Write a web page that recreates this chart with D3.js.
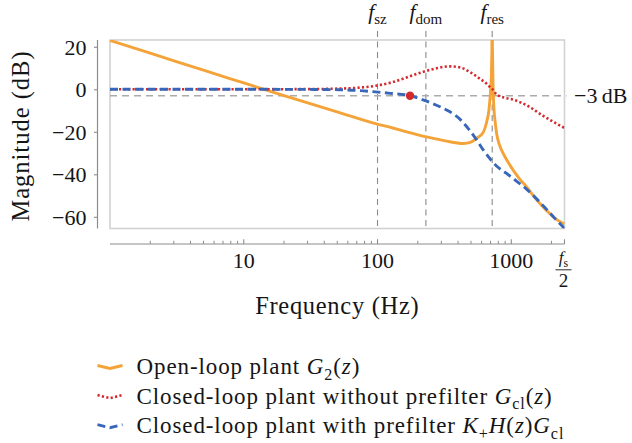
<!DOCTYPE html>
<html>
<head>
<meta charset="utf-8">
<script src="https://cdn.jsdelivr.net/npm/d3@7"></script>
<style>
  html, body { margin: 0; padding: 0; background: #fff; }
  svg { display: block; }
  svg text { font-family: "Liberation Serif", "DejaVu Serif", serif; }
</style>
</head>
<body>
<svg id="chart" width="632" height="443"></svg>
<script>
// ---- data -------------------------------------------------------------
// Open-loop plant G2(z): frequency (Hz) and magnitude (dB)
const openFreq = [1, 2, 5, 10, 20, 52, 92, 130, 165, 233, 290, 348, 437, 500, 550,
  620, 654, 680, 700, 710, 716, 720, 724, 730, 741, 760, 777, 820, 870, 950, 1033,
  1150, 1301, 1460, 1637, 1850, 2057, 2250, 2500];
const openDb = [23.0, 17.0, 9.0, 3.0, -3.0, -11.0, -15.8, -18.2, -20.0, -22.4, -23.7,
  -24.7, -25.5, -24.9, -23.1, -20.0, -15.5, -10.0, -1.0, 6.0, 18.0, 32.0, 18.0, 3.0,
  -8.3, -16.0, -20.8, -26.5, -30.2, -34.5, -38.0, -42.0, -45.9, -50.0, -53.7, -57.2,
  -60.0, -61.8, -63.3];

// Closed-loop plant without prefilter Gcl(z)
const clFreq = [1, 10, 30, 50, 70, 100, 130, 165, 200, 233, 280, 348, 420, 491, 582,
  650, 692, 720, 776, 900, 1028, 1300, 1722, 2100, 2500];
const clDb = [0, 0, 0.1, 0.3, 0.7, 1.8, 3.4, 5.6, 7.4, 8.7, 10.0, 10.8, 10.2, 8.1, 5.0,
  2.8, 1.1, 0.2, -2.4, -4.0, -4.8, -7.5, -12.4, -15.6, -18.2];

// Closed-loop plant with prefilter K+ H(z) Gcl
const pfFreq = [1, 10, 30, 52, 70, 92, 120, 175, 233, 300, 348, 420, 491, 560, 617,
  680, 733, 800, 922, 1100, 1300, 1600, 1836, 2100, 2500];
const pfDb = [0, 0, -0.05, -0.2, -0.5, -1.1, -1.8, -3.0, -5.6, -8.5, -10.6, -14.5,
  -19.5, -24.5, -28.5, -32.0, -34.5, -36.8, -39.6, -43.3, -47.0, -52.5, -56.5, -60.5,
  -65.4];

// Characteristic frequencies (Hz) marked by vertical guides
const guideSubs = ["sz", "dom", "res"];
const guideFreqs = [100, 230, 720];

// -3 dB bandwidth point of the prefiltered loop
const cutoffDb = -3;
const cutoffFreq = 175;

// Axes
const nyquistFreq = 2500;
const xMajorTicks = [10, 100, 1000];
const xMajorLabels = ["10", "100", "1000"];
const yTicks = [-60, -40, -20, 0, 20];
const yTickLabels = ["\u221260", "\u221240", "\u221220", "0", "20"];

// ---- layout -----------------------------------------------------------
const plot = { left: 110, right: 564.5, top: 40, bottom: 228.5 };
const colors = { open: "#F4A338", cl: "#D42A2E", pf: "#3867BA" };
const textColor = "#151515";
const serif = "'Liberation Serif', 'DejaVu Serif', serif";

const svg = d3.select("#chart");

const x = d3.scaleLog().domain([1, nyquistFreq]).range([plot.left, plot.right]);
const y = d3.scaleLinear().domain([-65.5, 23.2]).range([plot.bottom, plot.top]);

// rich text helper: italic and subscript runs inside one <text>
function rich(textSel, parts, fs) {
  let shift = 0;
  textSel.attr("font-family", serif);
  parts.forEach(p => {
    const ts = textSel.append("tspan").text(p.t);
    const target = p.sub ? fs * 0.24 : 0;
    if (target !== shift) ts.attr("dy", target - shift);
    shift = target;
    if (p.i) ts.attr("font-style", "italic");
    if (p.sub) ts.attr("font-size", fs * 0.7);
  });
  return textSel;
}

// clip for the curves
svg.append("defs").append("clipPath").attr("id", "plotClip")
  .append("rect")
  .attr("x", plot.left).attr("y", plot.top)
  .attr("width", plot.right - plot.left).attr("height", plot.bottom - plot.top);

// frame of the plotting area
svg.append("rect")
  .attr("x", plot.left).attr("y", plot.top)
  .attr("width", plot.right - plot.left).attr("height", plot.bottom - plot.top)
  .attr("fill", "none").attr("stroke", "#d2d2d2").attr("stroke-width", 1.6);

// vertical guides with labels above
const guides = svg.append("g");
guideFreqs.forEach((f, i) => {
  const gx = x(f);
  guides.append("line")
    .attr("x1", gx).attr("x2", gx).attr("y1", 31).attr("y2", plot.bottom + 2)
    .attr("stroke", "#8a8a8a").attr("stroke-width", 1.1)
    .attr("stroke-dasharray", "6,4.5");
  const t = guides.append("text")
    .attr("x", gx).attr("y", 19).attr("text-anchor", "middle")
    .attr("fill", textColor).attr("font-size", 21.5);
  rich(t, [{ t: "f", i: true }, { t: guideSubs[i], sub: true }], 21.5);
});

// -3 dB reference line and label
svg.append("line")
  .attr("x1", plot.left).attr("x2", plot.right + 2)
  .attr("y1", y(cutoffDb)).attr("y2", y(cutoffDb))
  .attr("stroke", "#ababab").attr("stroke-width", 1.4)
  .attr("stroke-dasharray", "7,5");
svg.append("text")
  .attr("x", 574).attr("y", y(cutoffDb) + 7)
  .attr("font-family", serif)
  .attr("fill", textColor).attr("font-size", 22)
  .text("\u22123\u2009dB");

// y axis (detached, left of the frame)
const yAxisX = 97.5;
const yAxis = svg.append("g").attr("transform", `translate(${yAxisX},0)`)
  .call(d3.axisLeft(y).tickValues(yTicks).tickSize(3.5).tickSizeOuter(0)
    .tickFormat((d, i) => yTickLabels[i]));
yAxis.attr("font-family", serif);
yAxis.select(".domain").attr("stroke", "#8c8c8c").attr("stroke-width", 1.2)
  .attr("d", `M0,${plot.top}V${plot.bottom}`);
yAxis.selectAll(".tick line").attr("stroke", "#8c8c8c").attr("stroke-width", 1.1);
yAxis.selectAll(".tick text")
  .attr("x", -11).attr("dy", "0.34em")
  .attr("font-family", serif).attr("font-size", 22)
  .attr("fill", textColor);

// x axis (detached, below the frame), ticks pointing up
const xAxisY = 244;
const minorTicks = [];
[1, 10, 100, 1000].forEach(dec => {
  for (let k = 2; k <= 9; k++) {
    const v = dec * k;
    if (v < nyquistFreq) minorTicks.push(v);
  }
});
const xAxisG = svg.append("g").attr("transform", `translate(0,${xAxisY})`);
xAxisG.append("line")
  .attr("x1", plot.left).attr("x2", plot.right)
  .attr("stroke", "#8c8c8c").attr("stroke-width", 1.2);
xAxisG.selectAll("line.minor").data(minorTicks).join("line")
  .attr("class", "minor")
  .attr("x1", d => x(d)).attr("x2", d => x(d)).attr("y1", 0).attr("y2", -3.2)
  .attr("stroke", "#8c8c8c").attr("stroke-width", 1);
xAxisG.selectAll("line.major").data(xMajorTicks.concat([nyquistFreq])).join("line")
  .attr("class", "major")
  .attr("x1", d => x(d)).attr("x2", d => x(d)).attr("y1", 0).attr("y2", -4.8)
  .attr("stroke", "#8c8c8c").attr("stroke-width", 1.1);
xAxisG.selectAll("text.major").data(xMajorTicks).join("text")
  .attr("class", "major")
  .attr("x", d => x(d)).attr("y", 24).attr("text-anchor", "middle")
  .attr("font-family", serif)
  .attr("fill", textColor).attr("font-size", 22)
  .text((d, i) => xMajorLabels[i]);

// f_s / 2 label at the right end of the axis
const fracX = x(nyquistFreq) - 1;
const num = xAxisG.append("text")
  .attr("x", fracX).attr("y", 19).attr("text-anchor", "middle")
  .attr("fill", textColor).attr("font-size", 17);
rich(num, [{ t: "f", i: true }, { t: "s", sub: true }], 17);
xAxisG.append("line")
  .attr("x1", fracX - 8).attr("x2", fracX + 8).attr("y1", 25.8).attr("y2", 25.8)
  .attr("stroke", textColor).attr("stroke-width", 0.9);
xAxisG.append("text")
  .attr("x", fracX).attr("y", 43).attr("text-anchor", "middle")
  .attr("font-family", serif)
  .attr("fill", textColor).attr("font-size", 19).text("2");

// axis titles
svg.append("text")
  .attr("x", (plot.left + plot.right) / 2).attr("y", 314)
  .attr("text-anchor", "middle").attr("fill", textColor)
  .attr("font-family", serif)
  .attr("font-size", 24.5).attr("letter-spacing", 0.7)
  .text("Frequency (Hz)");
svg.append("text")
  .attr("transform", "translate(29,136) rotate(-90)")
  .attr("text-anchor", "middle").attr("fill", textColor)
  .attr("font-family", serif)
  .attr("font-size", 24.5).attr("letter-spacing", 1.0)
  .text("Magnitude (dB)");

// ---- curves -----------------------------------------------------------
const line = d3.line()
  .x(d => x(d[0])).y(d => y(d[1]))
  .curve(d3.curveMonotoneX);

const curves = svg.append("g").attr("clip-path", "url(#plotClip)");

const series = [
  { key: "open", freq: openFreq, db: openDb, color: colors.open, width: 2.9, dash: null },
  { key: "cl", freq: clFreq, db: clDb, color: colors.cl, width: 2.6, dash: "2.2,2.3" },
  { key: "pf", freq: pfFreq, db: pfDb, color: colors.pf, width: 2.9, dash: "8,4.5" }
];

series.forEach(s => {
  curves.append("path")
    .datum(d3.zip(s.freq, s.db))
    .attr("d", line)
    .attr("fill", "none")
    .attr("stroke", s.color)
    .attr("stroke-width", s.width)
    .attr("stroke-linejoin", "round")
    .attr("stroke-dasharray", s.dash);
});

// bandwidth marker
svg.append("circle")
  .attr("cx", x(cutoffFreq)).attr("cy", y(cutoffDb)).attr("r", 4.2)
  .attr("fill", colors.cl);

// ---- legend -----------------------------------------------------------
const legendItems = [
  { s: series[0], parts: [{ t: "Open-loop plant " }, { t: "G", i: true }, { t: "2", sub: true },
      { t: "(" }, { t: "z", i: true }, { t: ")" }] },
  { s: series[1], parts: [{ t: "Closed-loop plant without prefilter " }, { t: "G", i: true },
      { t: "cl", sub: true }, { t: "(" }, { t: "z", i: true }, { t: ")" }] },
  { s: series[2], parts: [{ t: "Closed-loop plant with prefilter " }, { t: "K", i: true },
      { t: "+", sub: true }, { t: "H", i: true }, { t: "(" }, { t: "z", i: true }, { t: ")" },
      { t: "G", i: true }, { t: "cl", sub: true }] }
];
const legend = svg.append("g");
const legendRow0 = 374, legendStep = 29.6, legendFs = 23;
legendItems.forEach((item, i) => {
  const base = legendRow0 + i * legendStep;
  const mid = base - 7;
  legend.append("path")
    .attr("d", `M97.5,${mid - 1.5}L110,${mid + 1.5}L122.5,${mid - 1.5}`)
    .attr("fill", "none")
    .attr("stroke", item.s.color)
    .attr("stroke-width", item.s.width)
    .attr("stroke-dasharray", item.s.dash);
  const t = legend.append("text")
    .attr("x", 136.5).attr("y", base)
    .attr("fill", textColor).attr("font-size", legendFs)
    .attr("letter-spacing", 0.9);
  rich(t, item.parts, legendFs);
});
</script>
</body>
</html>
